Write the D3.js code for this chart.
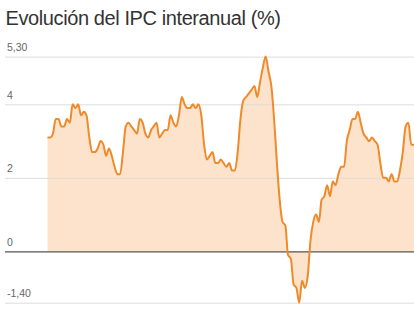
<!DOCTYPE html>
<html>
<head>
<meta charset="utf-8">
<script src="https://cdn.jsdelivr.net/npm/d3@7"></script>
<style>
  html, body { margin: 0; padding: 0; background: #fff; }
  svg { display: block; }
</style>
</head>
<body>
<svg id="chart" width="414" height="311"></svg>
<script>
// ---- Data ----
const title = "Evolución del IPC interanual (%)";
const startYear = 2002;   // first month: January 2002, monthly data
// Year-on-year CPI (%), monthly, Jan 2002 – Dec 2012
const ipc = [
  3.1, 3.1, 3.2, 3.6, 3.6, 3.4, 3.4, 3.6, 3.5, 4.0, 3.9, 4.0,   // 2002
  3.7, 3.8, 3.7, 3.1, 2.7, 2.7, 2.8, 3.0, 2.9, 2.6, 2.8, 2.6,   // 2003
  2.3, 2.1, 2.1, 2.7, 3.4, 3.5, 3.4, 3.3, 3.2, 3.6, 3.5, 3.2,   // 2004
  3.1, 3.3, 3.4, 3.5, 3.1, 3.2, 3.3, 3.3, 3.7, 3.5, 3.4, 3.7,   // 2005
  4.2, 4.0, 3.9, 3.9, 4.0, 3.9, 4.0, 3.7, 2.9, 2.5, 2.6, 2.7,   // 2006
  2.4, 2.4, 2.5, 2.4, 2.3, 2.4, 2.2, 2.2, 2.7, 3.6, 4.1, 4.2,   // 2007
  4.3, 4.4, 4.5, 4.2, 4.6, 5.0, 5.3, 4.9, 4.5, 3.6, 2.4, 1.4,   // 2008
  0.8, 0.7, -0.1, -0.2, -0.9, -1.0, -1.4, -0.8, -1.0, -0.7, 0.3, 0.8, // 2009
  1.0, 0.8, 1.4, 1.5, 1.8, 1.5, 1.9, 1.8, 2.1, 2.3, 2.3, 3.0,   // 2010
  3.3, 3.6, 3.6, 3.8, 3.5, 3.2, 3.1, 3.0, 3.1, 3.0, 2.9, 2.4,   // 2011
  2.0, 2.0, 1.9, 2.1, 1.9, 1.9, 2.2, 2.7, 3.4, 3.5, 2.9, 2.9    // 2012
];
const tickValues = [5.3, 4, 2, 0, -1.4];
const tickLabels = ["5,30", "4", "2", "0", "-1,40"];

// ---- Build ----
const data = ipc.map((v, i) => ({ date: new Date(startYear, i, 1), value: v }));

const svg = d3.select("#chart");
const W = 414, H = 311;

const x = d3.scaleTime()
  .domain(d3.extent(data, d => d.date))
  .range([47.5, 414]);

const y = d3.scaleLinear()
  .domain([-1.4, 5.3])
  .range([302.7, 56.6]);

// Title
svg.append("text")
  .attr("x", 5.5)
  .attr("y", 25)
  .attr("font-family", "'Liberation Sans', Arial, Helvetica, sans-serif")
  .attr("font-size", 20)
  .attr("letter-spacing", -0.4)
  .attr("fill", "#333")
  .text(title);

// Grid lines + labels via axis
const yAxis = d3.axisRight(y)
  .tickValues(tickValues)
  .tickSize(W - 5)
  .tickFormat((d, i) => tickLabels[i]);

// Area (to zero) and line
const area = d3.area()
  .x(d => x(d.date))
  .y0(y(0))
  .y1(d => y(d.value))
  .curve(d3.curveMonotoneX);

const line = d3.line()
  .x(d => x(d.date))
  .y(d => y(d.value))
  .curve(d3.curveMonotoneX);

svg.append("path")
  .datum(data)
  .attr("d", area)
  .attr("fill", "#fde3cb");

const gAxis = svg.append("g")
  .attr("transform", "translate(5,0)")
  .call(yAxis);
gAxis.select(".domain").remove();
gAxis.selectAll(".tick line")
  .attr("stroke", d => d === 0 ? "#555" : "#dcdcdc")
  .attr("stroke-width", d => d === 0 ? 1.3 : 1);
gAxis.selectAll(".tick text")
  .attr("x", 2)
  .attr("dy", -6)
  .attr("text-anchor", "start")
  .attr("font-family", "'Liberation Sans', Arial, Helvetica, sans-serif")
  .attr("font-size", 10.5)
  .attr("fill", "#666");

svg.append("path")
  .datum(data)
  .attr("d", line)
  .attr("fill", "none")
  .attr("stroke", "#ef8a2a")
  .attr("stroke-width", 2)
  .attr("stroke-linejoin", "round");
</script>
</body>
</html>
